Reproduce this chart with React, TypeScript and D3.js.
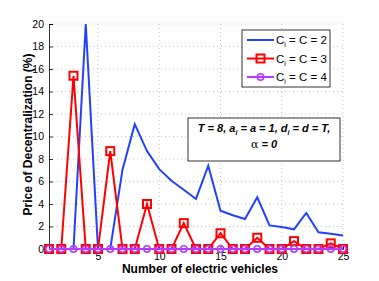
import React, { useEffect, useRef } from 'react';
import * as d3 from 'd3';

const vehicles = d3.range(1, 26);
const c2 = [0, 0, 0, 20, 0, 0, 7.05, 11.1, 8.7, 7.1, 6.07, 5.27, 4.45, 7.4, 3.4, 3.0, 2.67, 4.6, 2.1, 1.95, 1.75, 3.2, 1.48, 1.36, 1.2];
const c3 = [0, 0, 15.4, 0, 0, 8.7, 0, 0, 4.0, 0, 0, 2.3, 0, 0, 1.4, 0, 0, 1.0, 0, 0, 0.7, 0, 0, 0.5, 0];
const c4 = [0, 0, 0, 0, 0, 0, 0, 0, 0, 0, 0, 0, 0, 0, 0, 0, 0, 0, 0, 0, 0, 0, 0, 0, 0];
const xTicks = [5, 10, 15, 20, 25];
const yTicks = [0, 2, 4, 6, 8, 10, 12, 14, 16, 18, 20];
const seriesNames = ['2', '3', '4'];

const BLUE = '#2340ff';
const RED = '#ff0000';
const PURPLE = '#b43cff';

const App = () => {
  const ref = useRef<SVGSVGElement>(null);

  useEffect(() => {
    document.body.style.margin = '0';
    const svg = d3.select(ref.current);
    svg.selectAll('*').remove();

    const margin = { top: 24, right: 36, bottom: 32, left: 49 };
    const width = 379 - margin.left - margin.right;
    const height = 281 - margin.top - margin.bottom;
    const font = 'Liberation Sans, Arial, Helvetica, sans-serif';

    const x = d3.scaleLinear().domain([1, 25]).range([0, width]);
    const y = d3.scaleLinear().domain([0, 20]).range([height, 0]);

    const g = svg.append('g').attr('transform', `translate(${margin.left},${margin.top})`);

    // grid
    g.selectAll('.hgrid').data(yTicks.filter(d => d > 0)).enter().append('line')
      .attr('x1', 0).attr('x2', width)
      .attr('y1', d => y(d)).attr('y2', d => y(d))
      .attr('stroke', '#b8b8b8').attr('stroke-width', 0.8).attr('stroke-dasharray', '1,3');
    g.selectAll('.vgrid').data(xTicks).enter().append('line')
      .attr('x1', d => x(d)).attr('x2', d => x(d))
      .attr('y1', 0).attr('y2', height)
      .attr('stroke', '#b8b8b8').attr('stroke-width', 0.8).attr('stroke-dasharray', '1,3');

    // axes
    const yAxis = g.append('g').call(d3.axisLeft(y).tickValues(yTicks).tickSize(-4).tickPadding(5));
    const xAxis = g.append('g').attr('transform', `translate(0,${height})`)
      .call(d3.axisBottom(x).tickValues(xTicks).tickSize(-4).tickPadding(5));
    [yAxis, xAxis].forEach(a => {
      a.select('.domain').attr('stroke', '#000').attr('stroke-width', 0.8);
      a.selectAll('.tick line').attr('stroke', '#000').attr('stroke-width', 0.8);
      a.selectAll('.tick text').attr('font-family', font).attr('font-size', 10.5).attr('fill', '#000');
    });
    xAxis.selectAll('.tick text').attr('dy', '0.6em');

    const line = d3.line<number>().x((d, i) => x(vehicles[i])).y(d => y(d));

    // C = 2
    g.append('path').datum(c2).attr('d', line).attr('fill', 'none')
      .attr('stroke', BLUE).attr('stroke-width', 2).attr('stroke-linejoin', 'miter');

    // C = 3
    g.append('path').datum(c3).attr('d', line).attr('fill', 'none')
      .attr('stroke', RED).attr('stroke-width', 2);
    g.selectAll('.sq').data(c3).enter().append('rect')
      .attr('x', (d, i) => x(vehicles[i]) - 4).attr('y', d => y(d) - 4)
      .attr('width', 8).attr('height', 8)
      .attr('fill', 'none').attr('stroke', RED).attr('stroke-width', 2);

    // C = 4
    g.append('path').datum(c4).attr('d', line).attr('fill', 'none')
      .attr('stroke', PURPLE).attr('stroke-width', 2);
    g.selectAll('.ci').data(c4).enter().append('circle')
      .attr('cx', (d, i) => x(vehicles[i])).attr('cy', d => y(d)).attr('r', 3.2)
      .attr('fill', 'none').attr('stroke', PURPLE).attr('stroke-width', 1.6);

    // legend
    const lg = svg.append('g').attr('transform', 'translate(242,30)');
    lg.append('rect').attr('width', 88).attr('height', 57)
      .attr('fill', '#fff').attr('stroke', '#000').attr('stroke-width', 0.8);
    const colors = [BLUE, RED, PURPLE];
    seriesNames.forEach((name, i) => {
      const cy = 10 + i * 18.5;
      lg.append('line').attr('x1', 5).attr('x2', 32).attr('y1', cy).attr('y2', cy)
        .attr('stroke', colors[i]).attr('stroke-width', 2);
      if (i === 1) {
        lg.append('rect').attr('x', 14.5).attr('y', cy - 4).attr('width', 8).attr('height', 8)
          .attr('fill', 'none').attr('stroke', RED).attr('stroke-width', 2);
      }
      if (i === 2) {
        lg.append('circle').attr('cx', 18.5).attr('cy', cy).attr('r', 3.2)
          .attr('fill', 'none').attr('stroke', PURPLE).attr('stroke-width', 1.6);
      }
      const t = lg.append('text').attr('x', 34).attr('y', cy + 4)
        .attr('font-family', font).attr('font-size', 11.5).attr('fill', '#000');
      t.append('tspan').text('C');
      t.append('tspan').attr('font-size', 7).attr('dy', 3).text('i');
      t.append('tspan').attr('dy', -3).text(` = C = ${name}`);
    });

    // annotation box
    const ab = svg.append('g').attr('transform', 'translate(188,118)');
    ab.append('rect').attr('width', 152).attr('height', 43)
      .attr('fill', '#fff').attr('stroke', '#000').attr('stroke-width', 0.8);
    const t1 = ab.append('text').attr('x', 76).attr('y', 14)
      .attr('text-anchor', 'middle').attr('font-family', font)
      .attr('font-size', 11).attr('font-weight', 'bold').attr('font-style', 'italic');
    t1.append('tspan').text('T = 8, a');
    t1.append('tspan').attr('font-size', 7).attr('dy', 3).text('i');
    t1.append('tspan').attr('dy', -3).text(' = a = 1, d');
    t1.append('tspan').attr('font-size', 7).attr('dy', 3).text('i');
    t1.append('tspan').attr('dy', -3).text(' = d = T,');
    const t2 = ab.append('text').attr('x', 76).attr('y', 30)
      .attr('text-anchor', 'middle').attr('font-family', font).attr('font-size', 11);
    t2.append('tspan').attr('font-family', 'DejaVu Serif, serif').text('α');
    t2.append('tspan').attr('font-weight', 'bold').attr('font-style', 'italic').text(' = 0');

    // axis labels
    svg.append('text').attr('x', margin.left + width / 2 + 4).attr('y', 273)
      .attr('text-anchor', 'middle').attr('font-family', font)
      .attr('font-size', 12).attr('font-weight', 'bold').text('Number of electric vehicles');
    svg.append('text')
      .attr('transform', `translate(${32},${margin.top + height / 2 - 2}) rotate(-90)`)
      .attr('text-anchor', 'middle').attr('font-family', font)
      .attr('font-size', 12).attr('font-weight', 'bold').text('Price of Decentralization (%)');
  }, []);

  return <svg ref={ref} width={379} height={281} style={{ display: 'block', background: '#fff' }} />;
};

export default App;
